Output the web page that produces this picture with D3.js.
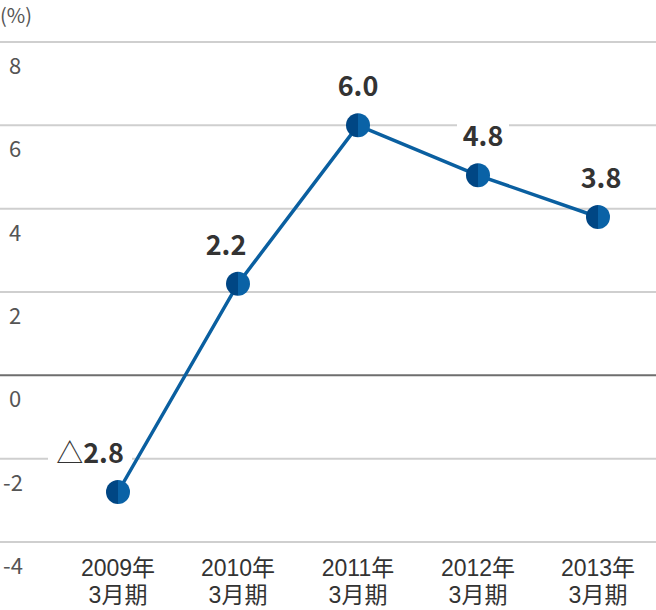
<!DOCTYPE html>
<html>
<head>
<meta charset="utf-8">
<script src="https://cdn.jsdelivr.net/npm/d3@7"></script>
<style>
  body { margin: 0; background: #fff; }
  svg { display: block; font-family: "Noto Sans CJK JP", "Noto Sans", sans-serif; }
  .xlab { font-family: "Liberation Sans", "Noto Sans CJK JP", sans-serif; }
</style>
</head>
<body>
<div class="vis-line"></div>
<script>
const years = ["2009年", "2010年", "2011年", "2012年", "2013年"];
const periods = ["3月期", "3月期", "3月期", "3月期", "3月期"];
const values = [-2.8, 2.2, 6.0, 4.8, 3.8];
const valueLabels = ["2.8", "2.2", "6.0", "4.8", "3.8"];
const valuePrefix = ["△", "", "", "", ""];
const yTicks = [8, 6, 4, 2, 0, -2, -4];

const width = 656, height = 610;

const svg = d3.select(".vis-line")
    .append("svg")
    .attr("width", width)
    .attr("height", height);

let x = d3.scalePoint()
    .domain(d3.range(values.length))
    .range([118, 598]);
let y = d3.scaleLinear()
    .domain([-4, 8])
    .range([542, 42]);

// unit
svg.append("text")
    .attr("x", 0).attr("y", 23)
    .attr("font-size", 20).attr("fill", "#555")
    .text("(%)");

// grid lines
svg.append("g")
    .selectAll("line")
    .data(yTicks)
    .enter()
    .append("line")
        .attr("x1", 0).attr("x2", width)
        .attr("y1", d => y(d)).attr("y2", d => y(d))
        .attr("stroke", d => d === 0 ? "#6e6e6e" : "#cfcfcf")
        .attr("stroke-width", 2);

// y labels
svg.append("g")
    .selectAll("text")
    .data(yTicks)
    .enter()
    .append("text")
        .attr("x", d => d < 0 ? 3 : 9)
        .attr("y", d => y(d) + 32)
        .attr("font-size", 22).attr("fill", "#555")
        .text(d => d);

// x labels, two lines each
const xg = svg.append("g")
    .attr("class", "xlab")
    .selectAll("g")
    .data(years)
    .enter()
    .append("g")
        .attr("transform", (d, i) => "translate(" + x(i) + ",0)");
xg.append("text")
    .attr("text-anchor", "middle")
    .attr("font-size", 23).attr("fill", "#333")
    .attr("y", 576)
    .text(d => d);
xg.append("text")
    .attr("text-anchor", "middle")
    .attr("font-size", 23).attr("fill", "#333")
    .attr("y", 603)
    .text((d, i) => periods[i]);

// value labels with white background
const labelDx = [-28, -12, 0, 5, 3];
const lg = svg.append("g")
    .selectAll("g")
    .data(values)
    .enter()
    .append("g")
        .attr("transform", (d, i) => "translate(" + (x(i) + labelDx[i]) + "," + (y(d) - 29) + ")");
lg.append("rect")
    .attr("x", (d, i) => i === 0 ? -42 : -26)
    .attr("y", -24)
    .attr("width", (d, i) => i === 0 ? 84 : 52)
    .attr("height", 32)
    .attr("fill", "#fff");
const lt = lg.append("text")
    .attr("text-anchor", "middle")
    .attr("font-size", 27).attr("fill", "#333");
lt.append("tspan").attr("font-weight", "normal").text((d, i) => valuePrefix[i]);
lt.append("tspan").attr("font-weight", "bold").text((d, i) => valueLabels[i]);

// line
const line = d3.line()
    .x((d, i) => x(i))
    .y(d => y(d));
svg.append("path")
    .datum(values)
    .attr("d", line)
    .attr("fill", "none")
    .attr("stroke", "#0a5fa0")
    .attr("stroke-width", 3.5);

// markers: two-tone circles
const r = 12;
const mg = svg.append("g")
    .selectAll("g")
    .data(values)
    .enter()
    .append("g")
        .attr("transform", (d, i) => "translate(" + x(i) + "," + y(d) + ")");
mg.append("path")
    .attr("d", "M0," + (-r) + "A" + r + "," + r + " 0 0,0 0," + r + "Z")
    .attr("fill", "#004684");
mg.append("path")
    .attr("d", "M0," + (-r) + "A" + r + "," + r + " 0 0,1 0," + r + "Z")
    .attr("fill", "#0a62a6");
</script>
</body>
</html>
